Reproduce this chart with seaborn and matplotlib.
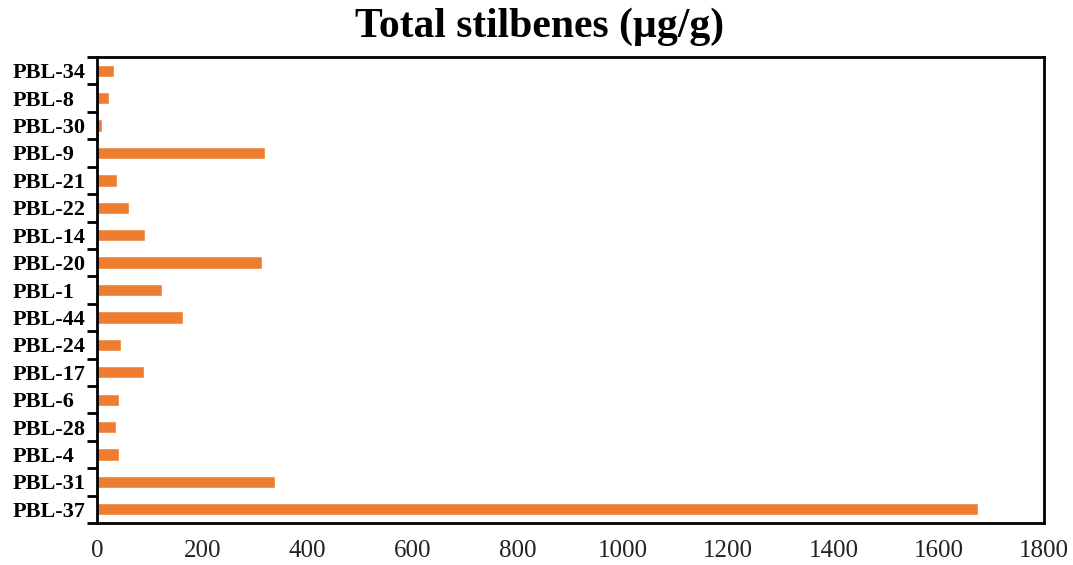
import matplotlib
matplotlib.use("Agg")
import matplotlib.pyplot as plt
import seaborn as sns
import numpy as np
import pandas as pd
from matplotlib.ticker import FixedLocator

categories = ["PBL-34", "PBL-8", "PBL-30", "PBL-9", "PBL-21", "PBL-22", "PBL-14",
              "PBL-20", "PBL-1", "PBL-44", "PBL-24", "PBL-17", "PBL-6", "PBL-28",
              "PBL-4", "PBL-31", "PBL-37"]
values = [32, 23, 10, 319, 38, 61, 91, 314, 124, 163, 46, 89, 42, 36, 42, 338, 1675]
x_ticks = [0, 200, 400, 600, 800, 1000, 1200, 1400, 1600, 1800]

sns.set_theme(style="white")
plt.rcParams["font.family"] = ["Liberation Serif", "DejaVu Serif"]
plt.rcParams["text.color"] = "black"
plt.rcParams["xtick.color"] = "black"
plt.rcParams["ytick.color"] = "black"

df = pd.DataFrame({"cat": categories, "val": values})

fig = plt.figure(figsize=(10.73, 5.65), dpi=100)
ax = fig.add_axes([0.0904, 0.0743, 0.973 - 0.0904, 0.899 - 0.0743])

sns.barplot(data=df, y="cat", x="val", orient="h", color="#ED7D31",
            saturation=1, width=0.45, ax=ax, order=categories)

ax.set_xlim(0, 1800)
ax.set_ylim(len(categories) - 0.5, -0.5)
ax.set_xticks(x_ticks)
ax.set_xticklabels([str(t) for t in x_ticks], fontsize=18, color="#222222")
ax.set_yticks(range(len(categories)))
ax.set_yticklabels(categories, fontsize=16, fontweight="bold", color="black",
                   ha="left")
ax.tick_params(axis="x", length=0, pad=12)
ax.tick_params(axis="y", which="major", length=0, pad=61)
ax.yaxis.set_minor_locator(FixedLocator(np.arange(-0.5, len(categories), 1.0)))
ax.tick_params(axis="y", which="minor", left=True, length=7, width=2,
               color="black", direction="out")
ax.set_xlabel("")
ax.set_ylabel("")
for s in ax.spines.values():
    s.set_visible(True)
    s.set_color("black")
    s.set_linewidth(2)

fig.text(0.503, 0.935, "Total stilbenes (µg/g)", ha="center", va="baseline",
         fontsize=30, fontweight="bold", color="black")

fig.savefig("out.png", dpi=100)
